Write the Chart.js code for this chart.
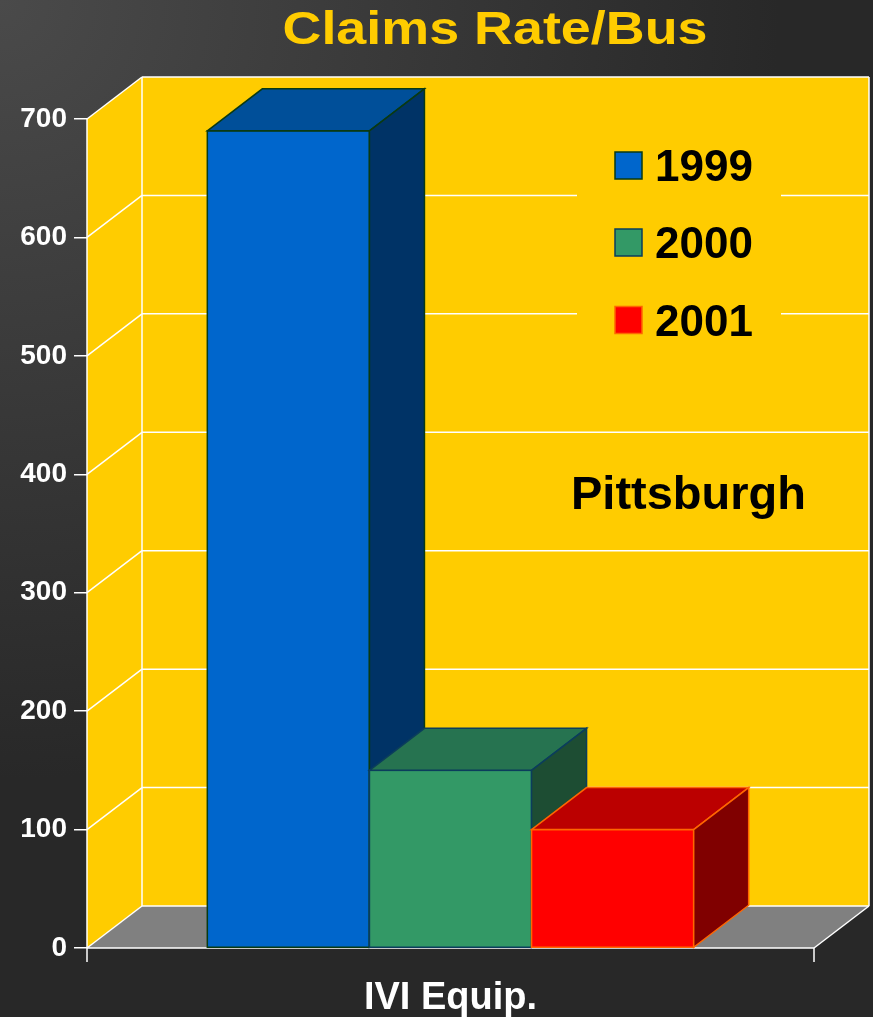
<!DOCTYPE html>
<html><head><meta charset="utf-8">
<script src="https://cdn.jsdelivr.net/npm/chart.js@4"></script>
<style>html,body{margin:0;padding:0;background:#282828;overflow:hidden}</style>
</head><body>
<canvas id="c" width="873" height="1017" style="display:block;width:873px;height:1017px"></canvas>
<script>
// ---- data ----
const categories = ['IVI Equip.'];
const seriesNames = ['1999', '2000', '2001'];
const values1999 = [690];
const values2000 = [150];
const values2001 = [100];
const yMin = 0, yMax = 700, yStep = 100;
const chartTitle = 'Claims Rate/Bus';
const cityLabel = 'Pittsburgh';

// ---- style ----
const FONT = '"Liberation Sans", Arial, sans-serif';
const DX = 55, DY = 42;
const frontColors = ['#0066CC', '#339966', '#FF0000'];
const topColors = ['#004F99', '#267350', '#BB0000'];
const sideColors = ['#003366', '#1D4D33', '#800000'];
const edgeColors = ['#0A3A12', '#0B3D5C', '#FF6600'];

function poly(ctx, pts) {
  ctx.beginPath();
  ctx.moveTo(pts[0][0], pts[0][1]);
  for (let i = 1; i < pts.length; i++) ctx.lineTo(pts[i][0], pts[i][1]);
  ctx.closePath();
}
function line(ctx, x1, y1, x2, y2) {
  ctx.beginPath(); ctx.moveTo(x1, y1); ctx.lineTo(x2, y2); ctx.stroke();
}

const threeD = {
  id: 'threeD',
  beforeDraw(chart) {
    const ctx = chart.ctx;
    const g = ctx.createRadialGradient(0, 0, 0, 0, 0, 780);
    g.addColorStop(0, '#4a4a4a');
    g.addColorStop(1, '#282828');
    ctx.save();
    ctx.fillStyle = g;
    ctx.fillRect(0, 0, chart.width, chart.height);
    ctx.restore();
  },
  beforeDatasetsDraw(chart) {
    const { ctx, chartArea: a, scales: { y } } = chart;
    const L = a.left, R = a.right;
    const T = y.getPixelForValue(yMax), B = y.getPixelForValue(yMin);
    ctx.save();
    ctx.fillStyle = '#FFCC00';
    poly(ctx, [[L, B], [L, T], [L + DX, T - DY], [L + DX, B - DY]]);
    ctx.fill();
    ctx.fillRect(L + DX, T - DY, R - L, B - T);
    ctx.fillStyle = '#808080';
    poly(ctx, [[L, B], [L + DX, B - DY], [R + DX, B - DY], [R, B]]);
    ctx.fill();
    ctx.strokeStyle = '#FFFFFF';
    ctx.lineWidth = 1.5;
    for (let v = yMin; v <= yMax; v += yStep) {
      const py = y.getPixelForValue(v);
      line(ctx, L, py, L + DX, py - DY);
      line(ctx, L + DX, py - DY, R + DX, py - DY);
    }
    line(ctx, L + DX, T - DY, L + DX, B - DY);
    line(ctx, R + DX, T - DY, R + DX, B - DY);
    line(ctx, R, B, R + DX, B - DY);
    line(ctx, L, T, L, B);
    line(ctx, L, B, R, B);
    line(ctx, L, B, L, B + 14);
    line(ctx, R, B, R, B + 14);
    ctx.restore();
  },
  afterDatasetsDraw(chart) {
    const ctx = chart.ctx;
    ctx.save();
    ctx.lineWidth = 1.5;
    ctx.lineJoin = 'miter';
    chart.data.datasets.forEach((ds, i) => {
      const meta = chart.getDatasetMeta(i);
      meta.data.forEach(bar => {
        const p = bar.getProps(['x', 'y', 'base', 'width'], true);
        const l = p.x - p.width / 2, r = p.x + p.width / 2, t = p.y, b = p.base;
        ctx.strokeStyle = edgeColors[i];
        ctx.fillStyle = frontColors[i];
        ctx.fillRect(l, t, r - l, b - t);
        ctx.strokeRect(l, t, r - l, b - t);
        ctx.fillStyle = topColors[i];
        poly(ctx, [[l, t], [l + DX, t - DY], [r + DX, t - DY], [r, t]]);
        ctx.fill(); ctx.stroke();
        ctx.fillStyle = sideColors[i];
        poly(ctx, [[r, t], [r + DX, t - DY], [r + DX, b - DY], [r, b]]);
        ctx.fill(); ctx.stroke();
      });
    });
    // legend
    ctx.fillStyle = '#FFCC00';
    ctx.fillRect(577, 140, 204, 205);
    const rowY = [165.5, 242.5, 320];
    chart.data.datasets.forEach((ds, i) => {
      ctx.fillStyle = frontColors[i];
      ctx.strokeStyle = edgeColors[i];
      ctx.lineWidth = 1.5;
      ctx.fillRect(615, rowY[i] - 13.5, 27, 27);
      ctx.strokeRect(615, rowY[i] - 13.5, 27, 27);
      ctx.fillStyle = '#000000';
      ctx.font = 'bold 44px ' + FONT;
      ctx.textAlign = 'left';
      ctx.textBaseline = 'alphabetic';
      ctx.fillText(ds.label, 655, rowY[i] + 15.5);
    });
    ctx.font = 'bold 47px ' + FONT;
    ctx.fillStyle = '#000000';
    ctx.fillText(cityLabel, 571, 509);
    ctx.restore();
  },
  afterDraw(chart) {
    const ctx = chart.ctx;
    ctx.save();
    ctx.font = 'bold 47px ' + FONT;
    ctx.fillStyle = '#FFCC00';
    ctx.textAlign = 'center';
    ctx.textBaseline = 'alphabetic';
    const w = ctx.measureText(chartTitle).width;
    const sx = 425 / w;
    ctx.translate(495, 44);
    ctx.scale(sx, 1);
    ctx.fillText(chartTitle, 0, 0);
    ctx.restore();
  }
};

new Chart(document.getElementById('c'), {
  type: 'bar',
  data: {
    labels: categories,
    datasets: [
      { label: seriesNames[0], data: values1999, backgroundColor: frontColors[0], borderWidth: 0 },
      { label: seriesNames[1], data: values2000, backgroundColor: frontColors[1], borderWidth: 0 },
      { label: seriesNames[2], data: values2001, backgroundColor: frontColors[2], borderWidth: 0 }
    ]
  },
  options: {
    responsive: false,
    animation: false,
    devicePixelRatio: 1,
    layout: { padding: { top: 119, right: 59, bottom: 0, left: 0 } },
    datasets: { bar: { categoryPercentage: 0.669, barPercentage: 1 } },
    plugins: { legend: { display: false }, title: { display: false }, tooltip: { enabled: false } },
    scales: {
      x: {
        grid: { display: false },
        border: { display: false },
        ticks: { color: '#FFFFFF', font: { family: FONT, size: 38, weight: 'bold' }, padding: 20 },
        afterFit(s) { s.height = 69; }
      },
      y: {
        min: yMin, max: yMax,
        grid: { drawOnChartArea: false, drawTicks: true, tickLength: 13, color: '#FFFFFF', lineWidth: 1.5 },
        border: { display: false },
        ticks: { stepSize: yStep, color: '#FFFFFF', font: { family: FONT, size: 28, weight: 'bold' }, padding: 7 },
        afterFit(s) { s.width = 87; }
      }
    }
  },
  plugins: [threeD]
});
</script>
</body></html>
